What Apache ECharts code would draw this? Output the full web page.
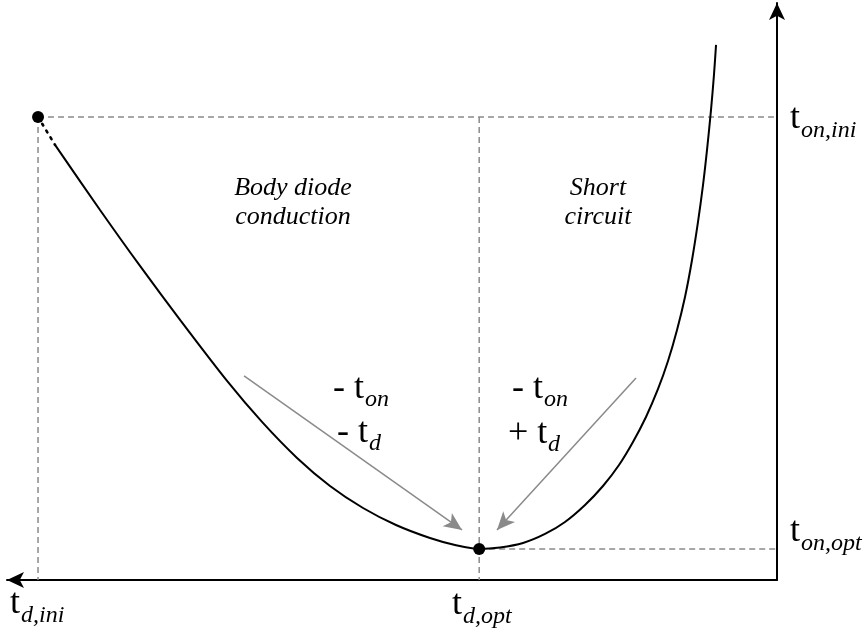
<!DOCTYPE html>
<html>
<head>
<meta charset="utf-8">
<script src="https://cdn.jsdelivr.net/npm/echarts@6/dist/echarts.min.js"></script>
<style>
  html, body { margin: 0; padding: 0; background: #fff; }
  #chart { width: 866px; height: 635px; }
</style>
</head>
<body>
<div id="chart"></div>
<script>
// Dead time t_d (x, grows to the left) versus on-time t_on (y)
const tdIni = 100;
const tdOpt = 40.3;
const tonIni = 100;
const tonOpt = 6.7;

// Operating curve: t_d values and matching t_on values
const curveTd = [97.7, 91.61, 86.2, 80.78, 74.42, 69.69, 64.95, 60.49, 56.02, 51.56, 46.96, 43.57, 40.3,
                 37.48, 34.37, 31.39, 28.69, 25.98, 23.55, 21.38, 19.49, 17.73, 16.1, 14.75, 13.53,
                 12.45, 11.5, 10.69, 10.01, 9.47, 8.93, 8.53, 8.25];
const curveTon = [93.95, 79.91, 67.82, 56.16, 42.98, 34.13, 26.35, 20.3, 15.55, 11.88, 9.07, 7.56, 6.7,
                  7.02, 7.99, 9.94, 12.53, 16.2, 20.3, 24.84, 29.81, 35.21, 41.25, 47.3, 54.0,
                  61.12, 69.11, 77.32, 85.31, 92.87, 101.51, 109.07, 115.55];

// Adjustment directions: [start t_d, start t_on, end t_d, end t_on]
const arrowLeft = [72.12, 44.06, 42.63, 10.8];
const arrowRight = [19.08, 43.63, 37.89, 10.8];

const regionLeft = ['Body diode', 'conduction'];
const regionRight = ['Short', 'circuit'];

const curveData = curveTd.map((v, i) => [v, curveTon[i]]);
const startData = [[tdIni, tonIni], [curveTd[0], curveTon[0]]];

const dashStyle = { color: '#8a8a8a', width: 1.5, type: [6, 4] };
function guide(points) {
  return {
    type: 'line', data: points, symbol: 'none', silent: true, z: 1,
    lineStyle: dashStyle
  };
}

const serif = 'Liberation Serif';

function txt(x, y, text, size, italic, align) {
  return {
    type: 'text', x: x, y: y, silent: true,
    style: {
      text: text, fontFamily: serif, fontSize: size,
      fontStyle: italic ? 'italic' : 'normal',
      fill: '#000', align: align || 'left', verticalAlign: 'middle'
    }
  };
}

const T = 36, S = 24, R = 26;
const graphics = [
  // axis variable labels
  txt(790, 119, 't', T), txt(801, 131, 'on,ini', S, true),
  txt(790, 532, 't', T), txt(801, 544, 'on,opt', S, true),
  txt(10, 604, 't', T), txt(21, 616, 'd,ini', S, true),
  txt(452, 605, 't', T), txt(463, 617, 'd,opt', S, true),
  // adjustment labels
  txt(333, 389, '- t', T), txt(365, 400, 'on', S, true),
  txt(337, 433, '- t', T), txt(369, 444, 'd', S, true),
  txt(512, 389, '- t', T), txt(544, 400, 'on', S, true),
  txt(508, 434, '+ t', T), txt(548, 445, 'd', S, true),
  // region names
  txt(293, 188, regionLeft[0], R, true, 'center'),
  txt(293, 217, regionLeft[1], R, true, 'center'),
  txt(598, 188, regionRight[0], R, true, 'center'),
  txt(598, 217, regionRight[1], R, true, 'center')
];

function arrowLine(a) {
  return [{ coord: [a[0], a[1]] }, { coord: [a[2], a[3]] }];
}

const chart = echarts.init(document.getElementById('chart'), null, { renderer: 'canvas' });
chart.setOption({
  animation: false,
  backgroundColor: '#fff',
  grid: { left: 7, right: 89, top: 3, bottom: 55 },
  xAxis: {
    type: 'value', inverse: true, min: 0, max: 104.2,
    axisLine: { show: true, symbol: ['arrow', 'none'], symbolSize: [12, 17], lineStyle: { color: '#000', width: 2 } },
    axisTick: { show: false }, axisLabel: { show: false }, splitLine: { show: false }
  },
  yAxis: {
    type: 'value', min: 0, max: 124.6,
    axisLine: { show: true, onZero: true, symbol: ['none', 'arrow'], symbolSize: [12, 17], lineStyle: { color: '#000', width: 2 } },
    axisTick: { show: false }, axisLabel: { show: false }, splitLine: { show: false }
  },
  series: [
    guide([[tdIni, tonIni], [0, tonIni]]),
    guide([[tdIni, tonIni], [tdIni, 0]]),
    guide([[tdOpt, tonIni], [tdOpt, 0]]),
    guide([[tdOpt, tonOpt], [0, tonOpt]]),
    {
      type: 'line', data: startData, symbol: 'none', silent: true, z: 2,
      lineStyle: { color: '#000', width: 2.6, type: [2, 6], cap: 'round' }
    },
    {
      type: 'line', data: curveData, symbol: 'none', smooth: 0.3, silent: true, z: 3,
      lineStyle: { color: '#000', width: 2 }
    },
    {
      type: 'scatter', data: [[tdIni, tonIni], [tdOpt, tonOpt]], symbolSize: 12, z: 5, silent: true,
      itemStyle: { color: '#000', opacity: 1 },
      markLine: {
        silent: true, symbol: ['none', 'arrow'], symbolSize: [12, 18],
        label: { show: false },
        lineStyle: { color: '#8a8a8a', width: 1.5, type: 'solid' },
        data: [arrowLine(arrowLeft), arrowLine(arrowRight)]
      }
    }
  ],
  graphic: graphics
});
</script>
</body>
</html>
